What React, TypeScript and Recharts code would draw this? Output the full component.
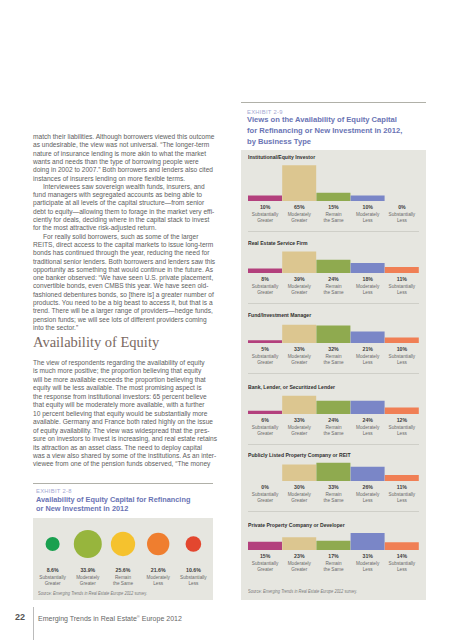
import React from 'react';
import { BarChart, Bar, XAxis, YAxis, ZAxis, Cell, ScatterChart, Scatter } from 'recharts';

// answer categories shared by both exhibits
const answerTop = ['Substantially', 'Moderately', 'Remain', 'Moderately', 'Substantially'];
const answerBottom = ['Greater', 'Greater', 'the Same', 'Less', 'Less'];
const answers = answerTop.map((t, i) => `${t} ${answerBottom[i]}`);

// exhibit 2-9, share of respondents (%) by business type
const businessTypes = [
  'Institutional/Equity Investor',
  'Real Estate Service Firm',
  'Fund/Investment Manager',
  'Bank, Lender, or Securitized Lender',
  'Publicly Listed Property Company or REIT',
  'Private Property Company or Developer',
];
const institutionalInvestor = [10, 65, 15, 10, 0];
const serviceFirm = [8, 39, 24, 18, 11];
const fundManager = [5, 33, 32, 21, 10];
const bankLender = [6, 33, 24, 24, 12];
const listedCompany = [0, 30, 33, 26, 11];
const privateDeveloper = [15, 23, 17, 31, 14];
const businessValues = [institutionalInvestor, serviceFirm, fundManager, bankLender, listedCompany, privateDeveloper];

// exhibit 2-8, all respondents (%)
const overallShare = [8.6, 33.9, 25.6, 21.6, 10.6];

const barColors = ['#b3407d', '#dcc690', '#8faa4f', '#7a86c7', '#f07f55'];
const bubbleColors = ['#19a04f', '#97b53d', '#f5c22e', '#ef7e2f', '#e3472f'];

const bodyLines = [
  'match their liabilities. Although borrowers viewed this outcome',
  'as undesirable, the view was not universal. \u201cThe longer-term',
  'nature of insurance lending is more akin to what the market',
  'wants and needs than the type of borrowing people were',
  'doing in 2002 to 2007.\u201d Both borrowers and lenders also cited',
  'instances of insurers lending on more flexible terms.',
  '\tInterviewees saw sovereign wealth funds, insurers, and',
  'fund managers with segregated accounts as being able to',
  'participate at all levels of the capital structure\u2014from senior',
  'debt to equity\u2014allowing them to forage in the market very effi-',
  'ciently for deals, deciding where in the capital stack to invest',
  'for the most attractive risk-adjusted return.',
  '\tFor really solid borrowers, such as some of the larger',
  'REITS, direct access to the capital markets to issue long-term',
  'bonds has continued through the year, reducing the need for',
  'traditional senior lenders. Both borrowers and lenders saw this',
  'opportunity as something that would continue in the future. As',
  'one banker observed: \u201cWe have seen U.S. private placement,',
  'convertible bonds, even CMBS this year. We have seen old-',
  'fashioned debentures bonds, so [there is] a greater number of',
  'products. You need to be a big beast to access it, but that is a',
  'trend. There will be a larger range of providers\u2014hedge funds,',
  'pension funds; we will see lots of different providers coming',
  'into the sector.\u201d',
];

const equityLines = [
  'The view of respondents regarding the availability of equity',
  'is much more positive; the proportion believing that equity',
  'will be more available exceeds the proportion believing that',
  'equity will be less available. The most promising aspect is',
  'the response from institutional investors: 65 percent believe',
  'that equity will be moderately more available, with a further',
  '10 percent believing that equity would be substantially more',
  'available. Germany and France both rated highly on the issue',
  'of equity availability. The view was widespread that the pres-',
  'sure on investors to invest is increasing, and real estate retains',
  'its attraction as an asset class. The need to deploy capital',
  'was a view also shared by some of the institutions. As an inter-',
  'viewee from one of the pension funds observed, \u201cThe money',
];

const FONT = "'Liberation Sans', Arial, Helvetica, sans-serif";
const TITLE_BLUE = '#6a74b4';
const PANEL_BG = '#e6e6e0';

// layout of the six small panels (y of the bar baseline, y of the panel title)
const panelBaselines = [201, 272.5, 343, 413.5, 481, 550];
const panelTitleY = [158, 244, 315.5, 387.5, 456, 526];
const PLOT_H = 44;

function Txt({ x, y, size, children, style }: any) {
  return (
    <div
      style={{
        position: 'absolute',
        left: x,
        top: y - size * 0.6,
        fontSize: size,
        lineHeight: `${size * 1.2}px`,
        whiteSpace: 'nowrap',
        fontFamily: FONT,
        ...style,
      }}
    >
      {children}
    </div>
  );
}

function AnswerTick(props: any) {
  const { x, y, payload, labels } = props;
  const i = typeof payload.value === 'number' ? payload.value : answers.indexOf(payload.value);
  return (
    <g transform={`translate(${x},${y}) scale(0.84,1)`}>
      <text x={0} y={8.2} textAnchor="middle" fontFamily={FONT} fontSize={6.2} fontWeight={700} fill="#3c3c3c">
        {labels[i]}
      </text>
      <text x={0} y={14.6} textAnchor="middle" fontFamily={FONT} fontSize={5.6} fill="#6a6a6a">
        {answerTop[i]}
      </text>
      <text x={0} y={21.2} textAnchor="middle" fontFamily={FONT} fontSize={5.6} fill="#6a6a6a">
        {answerBottom[i]}
      </text>
    </g>
  );
}

function BusinessPanel({ values, top }: { values: number[]; top: number }) {
  const data = answers.map((a, i) => ({ answer: a, share: values[i] }));
  const labels = values.map((v) => `${v}%`);
  return (
    <div style={{ position: 'absolute', left: 241, top }}>
      <BarChart width={185} height={PLOT_H + 26} data={data} margin={{ top: 0, right: 7, bottom: 0, left: 7 }} barCategoryGap={0}>
        <YAxis hide type="number" domain={[0, 80]} allowDataOverflow />
        <XAxis
          dataKey="answer"
          height={26}
          interval={0}
          axisLine={false}
          tickLine={false}
          tickSize={0}
          tickMargin={0}
          tick={(p: any) => <AnswerTick {...p} labels={labels} />}
        />
        <Bar dataKey="share" isAnimationActive={false}>
          {data.map((d, i) => (
            <Cell key={d.answer} fill={barColors[i]} />
          ))}
        </Bar>
      </BarChart>
    </div>
  );
}

function SourceNote({ x, y }: { x: number; y: number }) {
  return (
    <Txt x={x} y={y} size={5} style={{ color: '#7a7a7a', transform: 'scaleX(0.8)', transformOrigin: 'left center' }}>
      Source: <i>Emerging Trends in Real Estate Europe 2012</i> survey.
    </Txt>
  );
}

export default function App() {
  const bubbleData = overallShare.map((v, i) => ({ pos: i, row: 0, share: v }));
  const bubbleLabels = overallShare.map((v) => `${v.toFixed(1)}%`);

  return (
    <div style={{ position: 'absolute', left: 0, top: 0, width: 453, height: 640, background: '#fff', overflow: 'hidden' }}>
      {/* left column body text */}
      {bodyLines.map((l, i) => (
        <Txt key={'b' + i} x={l.startsWith('\t') ? 43 : 33} y={137 + i * 8.3} size={6.6} style={{ color: '#5e5e5e' }}>
          {l.replace('\t', '')}
        </Txt>
      ))}
      <Txt x={33} y={343} size={14.5} style={{ color: '#7a6962', fontFamily: "'Liberation Serif', 'DejaVu Serif', serif" }}>
        Availability of Equity
      </Txt>
      {equityLines.map((l, i) => (
        <Txt key={'e' + i} x={33} y={363 + i * 8.45} size={6.6} style={{ color: '#5e5e5e' }}>
          {l}
        </Txt>
      ))}

      {/* exhibit 2-8 */}
      <div style={{ position: 'absolute', left: 33, top: 483, width: 180, height: 1, background: '#b0b0a8' }} />
      <Txt x={36} y={491} size={5.8} style={{ color: '#a4a9d2', letterSpacing: 0.3 }}>EXHIBIT 2-8</Txt>
      <Txt x={36} y={500} size={7.35} style={{ color: TITLE_BLUE, fontWeight: 700 }}>Availability of Equity Capital for Refinancing</Txt>
      <Txt x={36} y={509.5} size={7.35} style={{ color: TITLE_BLUE, fontWeight: 700 }}>or New Investment in 2012</Txt>
      <div style={{ position: 'absolute', left: 33, top: 518, width: 180, height: 82, background: PANEL_BG }} />
      <div style={{ position: 'absolute', left: 33, top: 524 }}>
        <ScatterChart width={180} height={66} margin={{ top: 0, right: 2, bottom: 0, left: 2 }}>
          <XAxis
            type="number"
            dataKey="pos"
            domain={[-0.5, 4.5]}
            ticks={[0, 1, 2, 3, 4]}
            interval={0}
            allowDataOverflow
            height={26}
            axisLine={false}
            tickLine={false}
            tickSize={0}
            tickMargin={0}
            tick={(p: any) => <AnswerTick {...p} labels={bubbleLabels} />}
          />
          <YAxis hide type="number" dataKey="row" domain={[-1, 1]} />
          <ZAxis type="number" dataKey="share" domain={[0, 40]} range={[0, 726]} />
          <Scatter data={bubbleData} isAnimationActive={false}>
            {bubbleData.map((d, i) => (
              <Cell key={i} fill={bubbleColors[i]} />
            ))}
          </Scatter>
        </ScatterChart>
      </div>
      <SourceNote x={38} y={593} />

      {/* exhibit 2-9 */}
      <div style={{ position: 'absolute', left: 241, top: 102, width: 185, height: 1, background: '#b0b0a8' }} />
      <Txt x={247} y={112} size={5.8} style={{ color: '#a4a9d2', letterSpacing: 0.3 }}>EXHIBIT 2-9</Txt>
      <Txt x={247} y={120} size={7.6} style={{ color: TITLE_BLUE, fontWeight: 700 }}>Views on the Availability of Equity Capital</Txt>
      <Txt x={247} y={131} size={7.6} style={{ color: TITLE_BLUE, fontWeight: 700 }}>for Refinancing or New Investment in 2012,</Txt>
      <Txt x={247} y={142} size={7.6} style={{ color: TITLE_BLUE, fontWeight: 700 }}>by Business Type</Txt>
      <div style={{ position: 'absolute', left: 241, top: 150, width: 185, height: 450, background: PANEL_BG }} />
      {businessTypes.map((name, k) => (
        <React.Fragment key={name}>
          <Txt
            x={248}
            y={panelTitleY[k]}
            size={6}
            style={{ color: '#2e2e2e', fontWeight: 700, transform: 'scaleX(0.85)', transformOrigin: 'left center' }}
          >
            {name}
          </Txt>
          <BusinessPanel values={businessValues[k]} top={panelBaselines[k] - PLOT_H} />
          {k < businessTypes.length - 1 && (
            <div style={{ position: 'absolute', left: 248, top: panelBaselines[k] + 30, width: 171, height: 1, background: '#cfcfc8' }} />
          )}
        </React.Fragment>
      ))}
      <SourceNote x={248} y={591} />

      {/* folio */}
      <Txt x={15} y={617} size={9} style={{ color: '#555', fontWeight: 700 }}>22</Txt>
      <div style={{ position: 'absolute', left: 33, top: 607, width: 1, height: 33, background: '#bbb' }} />
      <Txt x={38} y={617} size={7} style={{ color: '#666' }}>
        Emerging Trends in Real Estate<sup style={{ fontSize: 4 }}>®</sup> Europe 2012
      </Txt>
    </div>
  );
}
